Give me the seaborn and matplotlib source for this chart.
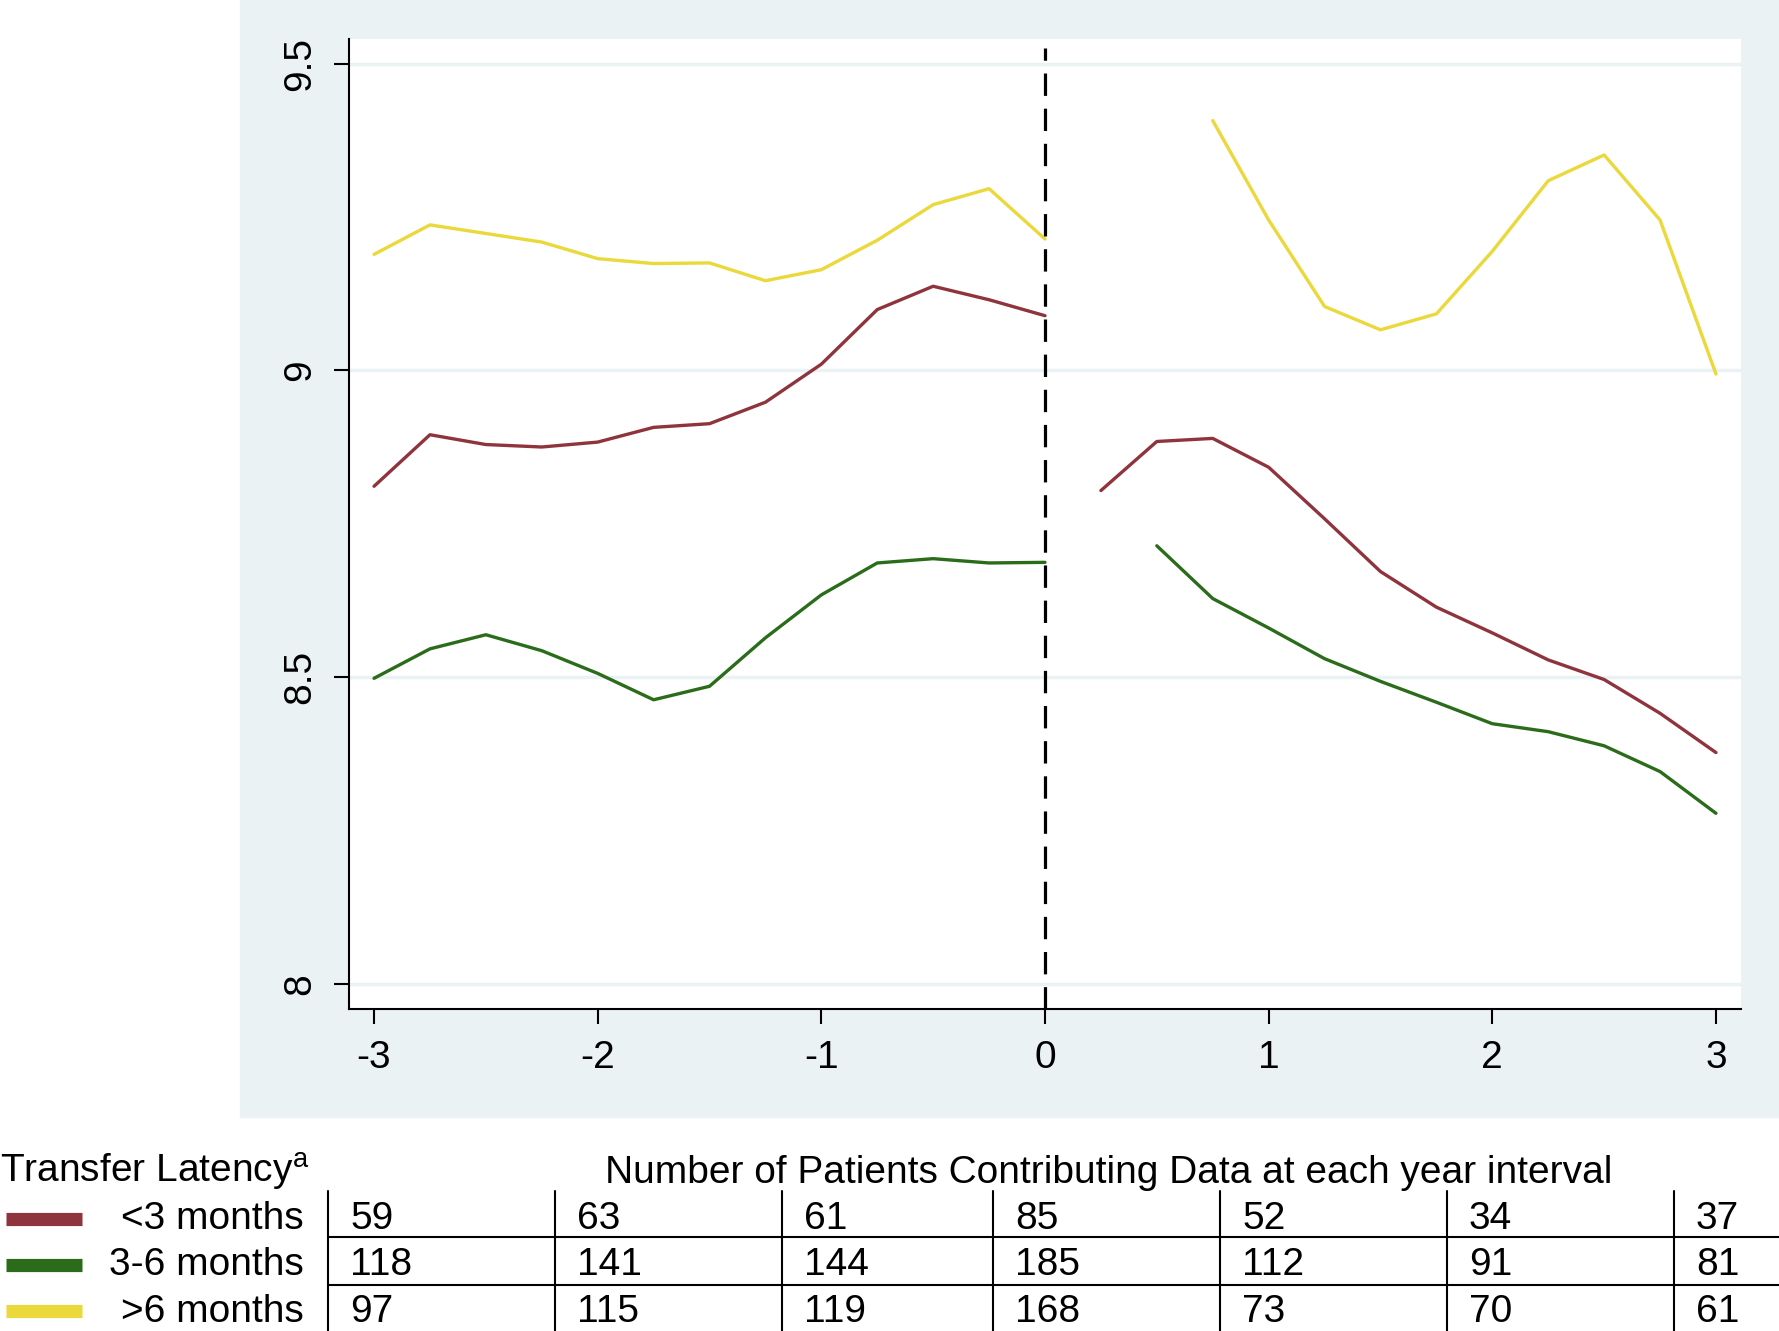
import pandas as pd
import matplotlib.pyplot as plt
from matplotlib.patches import Rectangle
from matplotlib.lines import Line2D
import seaborn as sns

# time relative to transfer (years)
t_pre = [-3, -2.75, -2.5, -2.25, -2, -1.75, -1.5, -1.25, -1, -0.75, -0.5, -0.25, 0]
t_post_lt3 = [0.25, 0.5, 0.75, 1, 1.25, 1.5, 1.75, 2, 2.25, 2.5, 2.75, 3]
t_post_3to6 = [0.5, 0.75, 1, 1.25, 1.5, 1.75, 2, 2.25, 2.5, 2.75, 3]
t_post_gt6 = [0.75, 1, 1.25, 1.5, 1.75, 2, 2.25, 2.5, 2.75, 3]

# values
lt3_pre = [8.811, 8.895, 8.879, 8.875, 8.883, 8.907, 8.913, 8.948, 9.010, 9.099, 9.137, 9.115, 9.089]
lt3_post = [8.804, 8.884, 8.889, 8.842, 8.758, 8.672, 8.614, 8.572, 8.528, 8.496, 8.441, 8.377]
m36_pre = [8.498, 8.546, 8.569, 8.543, 8.506, 8.463, 8.485, 8.564, 8.634, 8.686, 8.693, 8.686, 8.687]
m36_post = [8.714, 8.628, 8.580, 8.530, 8.493, 8.459, 8.424, 8.411, 8.388, 8.346, 8.278]
gt6_pre = [9.189, 9.237, 9.223, 9.209, 9.182, 9.174, 9.175, 9.146, 9.164, 9.212, 9.270, 9.296, 9.214]
gt6_post = [9.407, 9.245, 9.104, 9.066, 9.092, 9.194, 9.309, 9.351, 9.245, 8.994]

groups = ['<3 months', '3-6 months', '>6 months']
colors = ['#8F343D', '#2B6C1B', '#EBD83A']

# patients contributing data per year interval
n_lt3 = [59, 63, 61, 85, 52, 34, 37]
n_3to6 = [118, 141, 144, 185, 112, 91, 81]
n_gt6 = [97, 115, 119, 168, 73, 70, 61]

rows = []
for g, seg, t, v in [
    (groups[0], 'pre', t_pre, lt3_pre), (groups[0], 'post', t_post_lt3, lt3_post),
    (groups[1], 'pre', t_pre, m36_pre), (groups[1], 'post', t_post_3to6, m36_post),
    (groups[2], 'pre', t_pre, gt6_pre), (groups[2], 'post', t_post_gt6, gt6_post),
]:
    for ti, vi in zip(t, v):
        rows.append({'time': ti, 'value': vi, 'group': g, 'segment': seg})
df = pd.DataFrame(rows)

sns.set_style('white')
plt.rcParams['font.family'] = ['Liberation Sans', 'DejaVu Sans']
plt.rcParams['axes.unicode_minus'] = False
plt.rcParams['text.color'] = 'black'
plt.rcParams['xtick.color'] = 'black'
plt.rcParams['ytick.color'] = 'black'

W, H = 1779, 1331
def fx(px): return px / W
def fy(py): return 1 - py / H

bg = '#EAF2F3'
fig = plt.figure(figsize=(W / 100, H / 100), dpi=100, facecolor='white')
fig.patches.append(Rectangle((fx(240), fy(1117)), 1 - fx(240), 1117 / H,
                             transform=fig.transFigure, color=bg, zorder=-10))

ax = fig.add_axes([fx(349), fy(1009), (1741 - 349) / W, (1009 - 39) / H])
ax.set_zorder(5)
ax.set_facecolor('white')

sns.lineplot(data=df, x='time', y='value', hue='group', units='segment', estimator=None,
             palette=dict(zip(groups, colors)), hue_order=groups, lw=2.4, legend=False, ax=ax)

ax.axvline(0, ymin=0, ymax=0.991, color='black', lw=2.3, dashes=(7, 4))

ax.set_xlim(-3.112, 3.112)
ax.set_ylim(7.959, 9.540)
ax.set_xticks([-3, -2, -1, 0, 1, 2, 3])
ax.set_xticklabels(['-3', '-2', '-1', '0', '1', '2', '3'])
ax.set_yticks([8, 8.5, 9, 9.5])
ax.set_yticklabels(['8', '8.5', '9', '9.5'])
ax.yaxis.grid(True, color=bg, lw=2.5)
ax.xaxis.grid(False)
ax.set_axisbelow(True)
ax.set_xlabel('')
ax.set_ylabel('')
for s in ['top', 'right']:
    ax.spines[s].set_visible(False)
for s in ['left', 'bottom']:
    ax.spines[s].set_color('black')
    ax.spines[s].set_linewidth(1.5)
ax.tick_params(axis='both', direction='out', length=11, width=1.5, color='black',
               labelcolor='black', labelsize=28, pad=11, left=True, bottom=True)
ax.tick_params(axis='y', labelrotation=90)
for lab in ax.get_yticklabels():
    lab.set_va('center')

# table below the chart
fs = 28
fig.text(fx(0), fy(1183), r'Transfer Latency$^{\mathregular{a}}$', fontsize=fs, va='baseline',
         color='black')
fig.text(fx(1109), fy(1183), 'Number of Patients Contributing Data at each year interval',
         fontsize=fs, ha='center', va='baseline', color='black')

baselines = [1229, 1275, 1322]
swatch_y = [1219, 1265, 1311]
col_x = [328, 555, 782, 993, 1220, 1447, 1674]
for g, c, b, sy, counts in zip(groups, colors, baselines, swatch_y, [n_lt3, n_3to6, n_gt6]):
    fig.add_artist(Line2D([fx(6), fx(82)], [fy(sy), fy(sy)], color=c, lw=9.5,
                          solid_capstyle='butt', transform=fig.transFigure))
    fig.text(fx(304), fy(b), g, fontsize=fs, ha='right', va='baseline', color='black')
    for cx, n in zip(col_x, counts):
        fig.text(fx(cx + 22), fy(b), str(n), fontsize=fs, va='baseline', color='black')

for cx in col_x:
    fig.add_artist(Line2D([fx(cx), fx(cx)], [fy(1191), fy(1331)], color='black', lw=1.5,
                          transform=fig.transFigure))
for hy in [1237, 1285]:
    fig.add_artist(Line2D([fx(328), 1], [fy(hy), fy(hy)], color='black', lw=1.5,
                          transform=fig.transFigure))

fig.savefig('out.png', dpi=100)
